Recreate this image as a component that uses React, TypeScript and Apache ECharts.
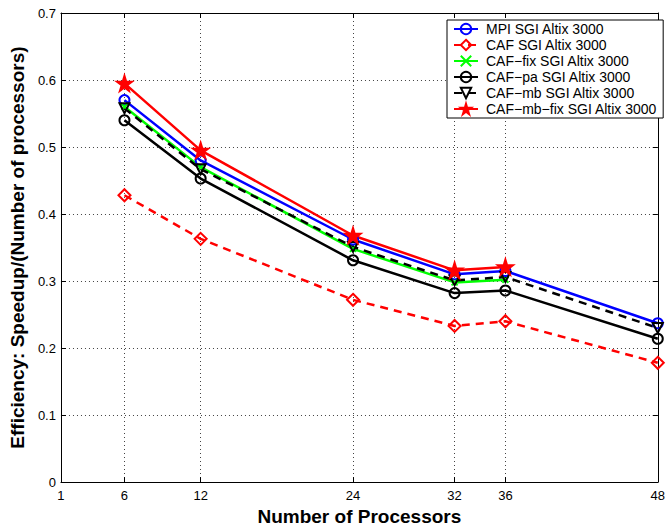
import React, { useEffect, useRef } from "react";
import * as echarts from "echarts";

const procs = [6, 12, 24, 32, 36, 48];
const xTicks = [1, 6, 12, 24, 32, 36, 48];
const yTicks = [0, 0.1, 0.2, 0.3, 0.4, 0.5, 0.6, 0.7];
const mpiSgi = [0.570, 0.480, 0.362, 0.310, 0.315, 0.237];
const cafSgi = [0.428, 0.363, 0.272, 0.233, 0.240, 0.178];
const cafFixSgi = [0.560, 0.470, 0.348, 0.298, 0.302];
const cafPaSgi = [0.540, 0.453, 0.331, 0.282, 0.286, 0.214];
const cafMbSgi = [0.558, 0.467, 0.351, 0.301, 0.306, 0.230];
const cafMbFixSgi = [0.595, 0.495, 0.368, 0.316, 0.321];

const STAR = "path://M50,0L61,35L98,35L68,57L79,91L50,70L21,91L32,57L2,35L39,35Z";
const TRI_DOWN = "path://M0,0L20,0L10,17Z";
const XMARK = "path://M0,0L10,10M10,0L0,10";

const FONT = "Liberation Sans, Arial, Helvetica, sans-serif";

function pts(vals: number[]) {
  return vals.map((v, i) => [procs[i], v]);
}

export default function App() {
  const ref = useRef<HTMLDivElement>(null);
  useEffect(() => {
    const chart = echarts.init(ref.current!, null, { renderer: "svg" });
    const mk = (
      name: string,
      vals: number[],
      color: string,
      symbol: string,
      size: number,
      dashed: boolean,
      filled: boolean
    ) => ({
      name,
      type: "line",
      data: pts(vals),
      symbol,
      symbolSize: size,
      showAllSymbol: true,
      lineStyle: { color, width: 2.5, type: dashed ? [8, 6] : "solid" },
      itemStyle: {
        color: filled ? color : "rgba(255,255,255,0)",
        borderColor: color,
        borderWidth: 2,
      },
      emphasis: { disabled: true },
    });
    const gridLine = { show: true, lineStyle: { color: "#444", width: 1, type: [1, 3] } };
    chart.setOption({
      animation: false,
      backgroundColor: "#fff",
      textStyle: { fontFamily: FONT },
      grid: { left: 57, right: 4, top: 13, bottom: 41, show: false },
      legend: {
        orient: "vertical",
        left: 447,
        top: 20,
        width: 211,
        padding: [2, 6, 2, 6],
        itemGap: 2,
        itemWidth: 24,
        itemHeight: 13,
        backgroundColor: "#fff",
        borderColor: "#000",
        borderWidth: 1,
        borderRadius: 0,
        textStyle: { fontSize: 14, color: "#000", fontFamily: FONT, padding: [0, 0, 0, 3] },
        data: [
          "MPI SGI Altix 3000",
          "CAF SGI Altix 3000",
          "CAF\u2212fix SGI Altix 3000",
          "CAF\u2212pa SGI Altix 3000",
          "CAF\u2212mb SGI Altix 3000",
          "CAF\u2212mb\u2212fix SGI Altix 3000",
        ],
      },
      xAxis: [
        {
          type: "value",
          min: 1,
          max: 48,
          name: "Number of Processors",
          nameLocation: "middle",
          nameGap: 22,
          nameTextStyle: { fontSize: 19, fontWeight: "bold", color: "#000", fontFamily: FONT },
          axisLine: { show: true, lineStyle: { color: "#000", width: 1 } },
          axisTick: { show: true, inside: true, length: 5, customValues: xTicks, lineStyle: { color: "#000" } },
          axisLabel: { customValues: xTicks, fontSize: 13, color: "#000", margin: 7, fontFamily: FONT },
          splitLine: gridLine,
        },
        {
          type: "value",
          position: "top",
          min: 1,
          max: 48,
          axisLine: { show: true, onZero: false, lineStyle: { color: "#000", width: 1 } },
          axisTick: { show: true, inside: true, length: 5, customValues: xTicks, lineStyle: { color: "#000" } },
          axisLabel: { show: false },
          splitLine: { show: false },
        },
      ],
      yAxis: [
        {
          type: "value",
          min: 0,
          max: 0.7,
          interval: 0.1,
          name: "Efficiency: Speedup/(Number of processors)",
          nameLocation: "middle",
          nameGap: 25,
          nameTextStyle: { fontSize: 19, fontWeight: "bold", color: "#000", fontFamily: FONT },
          axisLine: { show: true, lineStyle: { color: "#000", width: 1 } },
          axisTick: { show: true, inside: true, length: 5, lineStyle: { color: "#000" } },
          axisLabel: {
            fontSize: 13,
            color: "#000",
            margin: 5,
            fontFamily: FONT,
            formatter: (v: number) => {
              const t = yTicks.find((y) => Math.abs(y - v) < 1e-9);
              return t === 0 ? "0" : String(Math.round(v * 10) / 10);
            },
          },
          splitLine: gridLine,
        },
        {
          type: "value",
          position: "right",
          min: 0,
          max: 0.7,
          interval: 0.1,
          axisLine: { show: true, onZero: false, lineStyle: { color: "#000", width: 1 } },
          axisTick: { show: true, inside: true, length: 5, lineStyle: { color: "#000" } },
          axisLabel: { show: false },
          splitLine: { show: false },
        },
      ],
      series: [
        mk("MPI SGI Altix 3000", mpiSgi, "#0000ff", "circle", 10, false, false),
        mk("CAF SGI Altix 3000", cafSgi, "#ff0000", "diamond", 12, true, false),
        mk("CAF\u2212fix SGI Altix 3000", cafFixSgi, "#00ff00", XMARK, 6, false, false),
        mk("CAF\u2212pa SGI Altix 3000", cafPaSgi, "#000000", "circle", 10, false, false),
        mk("CAF\u2212mb SGI Altix 3000", cafMbSgi, "#000000", TRI_DOWN, 10, true, false),
        mk("CAF\u2212mb\u2212fix SGI Altix 3000", cafMbFixSgi, "#ff0000", STAR, 15, false, true),
      ],
    });
    return () => chart.dispose();
  }, []);
  return <div ref={ref} style={{ width: 668, height: 531, position: "absolute", left: 0, top: 0 }} />;
}
